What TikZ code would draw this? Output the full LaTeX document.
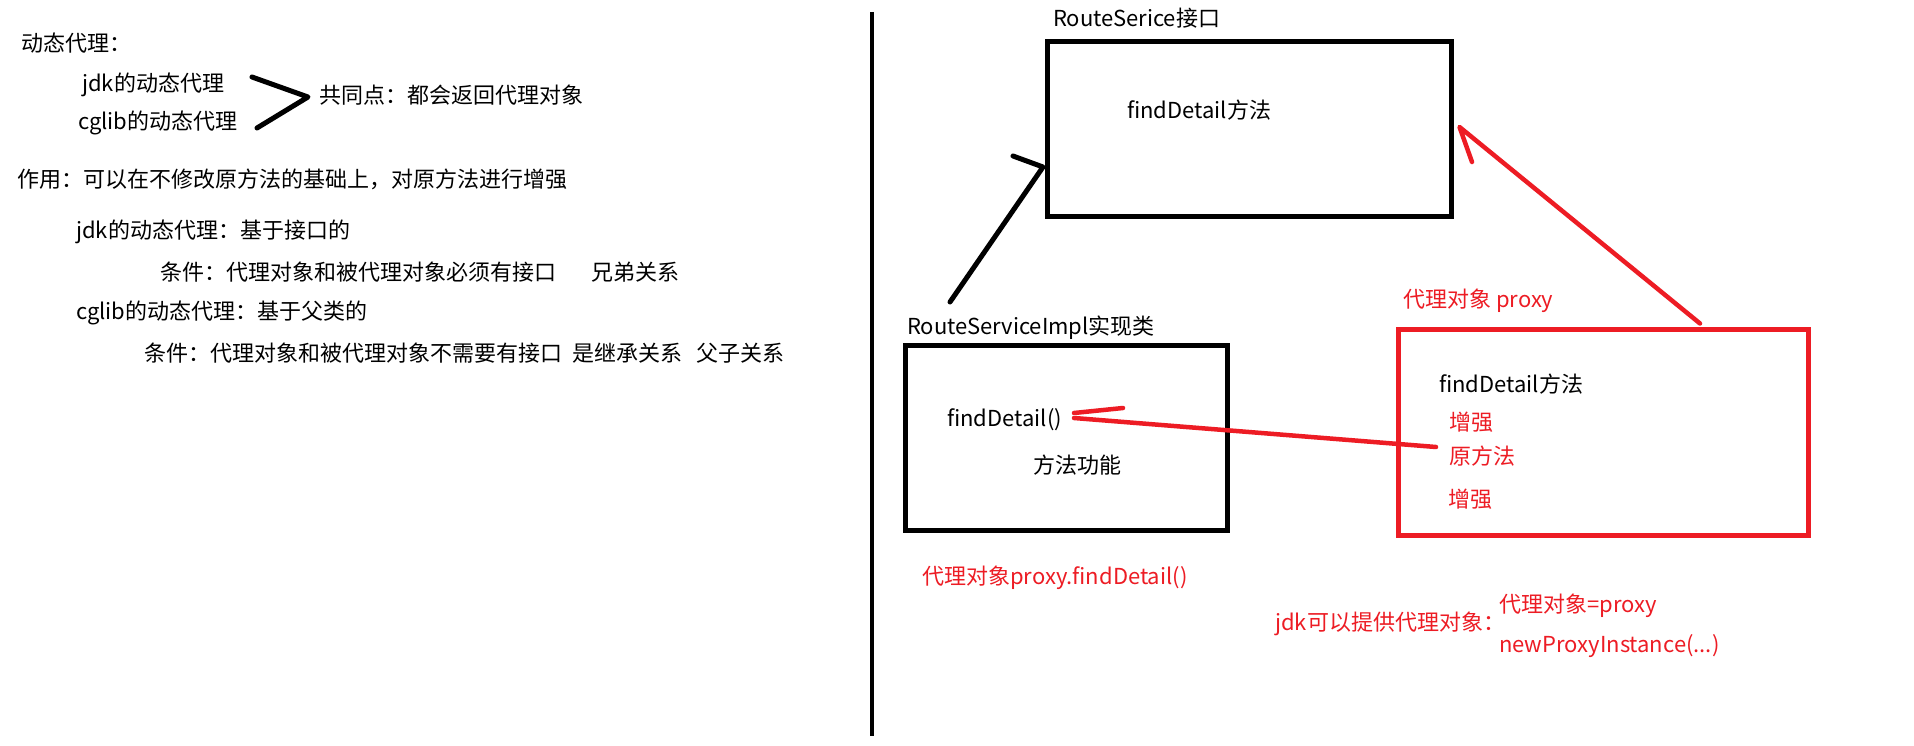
\documentclass[tikz,border=0pt]{standalone}
\usepackage{fontspec}
\setmainfont{Noto Sans CJK SC}
\definecolor{pred}{RGB}{237,28,36}
\begin{document}
\begin{tikzpicture}[x=1pt,y=-1pt,
  txt/.style={anchor=west, inner sep=0pt, text height=17pt, text depth=3pt, font=\fontsize{22pt}{26pt}\selectfont},
  rtxt/.style={txt, text=pred},
  bbox/.style={draw=black, line width=5pt, inner sep=0pt},
  rbox/.style={draw=pred, line width=5pt, inner sep=0pt},
  bline/.style={line width=5pt, black, line cap=round, line join=round},
  rline/.style={line width=4.5pt, pred, line cap=round, line join=round}]
\useasboundingbox (0,0) rectangle (1914,746);
\fill[white] (0,0) rectangle (1914,746);

% left column text
\node[txt] (t1) at (21,45) {动态代理：};
\node[txt] (t2) at (82,85) {jdk的动态代理};
\node[txt] (t3) at (78,123) {cglib的动态代理};
\node[txt] (t4) at (319,97) {共同点：都会返回代理对象};
\coordinate (br1) at (252,77);
\coordinate (br2) at (308,97);
\coordinate (br3) at (257,128);
\draw[bline] (br1) -- (br2) -- (br3);
\node[txt] (t5) at (17,181) {作用：可以在不修改原方法的基础上，对原方法进行增强};
\node[txt] (t6) at (76,232) {jdk的动态代理：基于接口的};
\node[txt] (t7) at (160,273) {条件：代理对象和被代理对象必须有接口};
\node[txt] (t7b) at (591,273) {兄弟关系};
\node[txt] (t8) at (76,312) {cglib的动态代理：基于父类的};
\node[txt] (t9) at (144,354) {条件：代理对象和被代理对象不需要有接口};
\node[txt] (t9b) at (572,354) {是继承关系};
\node[txt] (t9c) at (696,354) {父子关系};

% divider
\coordinate (v1) at (872,12);
\coordinate (v2) at (872,736);
\draw[line width=4.5pt, black] (v1) -- (v2);

% interface box
\node[bbox, minimum width=404pt, minimum height=175pt] (rs) at (1249,129.5) {};
\node[txt] (rsl) at (1053,20) {RouteSerice接口};
\node[txt] (rsm) at (1127,112) {findDetail方法};

% impl box
\node[bbox, minimum width=322pt, minimum height=185pt] (impl) at (1066,437.5) {};
\node[txt] (impll) at (907,327) {RouteServiceImpl实现类};
\node[txt] (fd2) at (947,419) {findDetail()};
\node[txt] (ff) at (1033,466) {方法功能};

% proxy box
\node[rbox, minimum width=410pt, minimum height=206pt] (px) at (1603,432) {};
\node[rtxt] (pxl) at (1403,300) {代理对象 proxy};
\node[txt] (pxm) at (1439,385) {findDetail方法};
\node[rtxt] (e1) at (1449,423) {增强};
\node[rtxt] (e2) at (1449,457) {原方法};
\node[rtxt] (e3) at (1448,500) {增强};

% bottom red notes
\node[rtxt] (n1) at (922,577) {代理对象proxy.findDetail()};
\node[rtxt] (n2) at (1275,623) {jdk可以提供代理对象：};
\node[rtxt] (n3) at (1499,605) {代理对象=proxy};
\node[rtxt] (n4) at (1499,645) {newProxyInstance(...)};

% black arrow impl -> interface
\coordinate (a1s) at (950,302);
\coordinate (a1b) at (1013,156);
\draw[bline] (a1s) -- ([xshift=-1.5pt,yshift=-37.5pt]rs.west) -- (a1b);

% red arrow proxy -> interface
\coordinate (a2b) at (1472,162);
\draw[rline] ([xshift=97pt,yshift=3pt]px.north) -- ([xshift=6pt,yshift=2.5pt]rs.east) -- (a2b);

% red arrow proxy -> findDetail()
\coordinate (a3s) at (1436,447);
\coordinate (a3t) at (1074,418);
\coordinate (a3u) at (1074,413);
\coordinate (a3b) at (1123,408);
\draw[rline] (a3s) -- (a3t);
\draw[rline] (a3u) -- (a3b);
\end{tikzpicture}
\end{document}
